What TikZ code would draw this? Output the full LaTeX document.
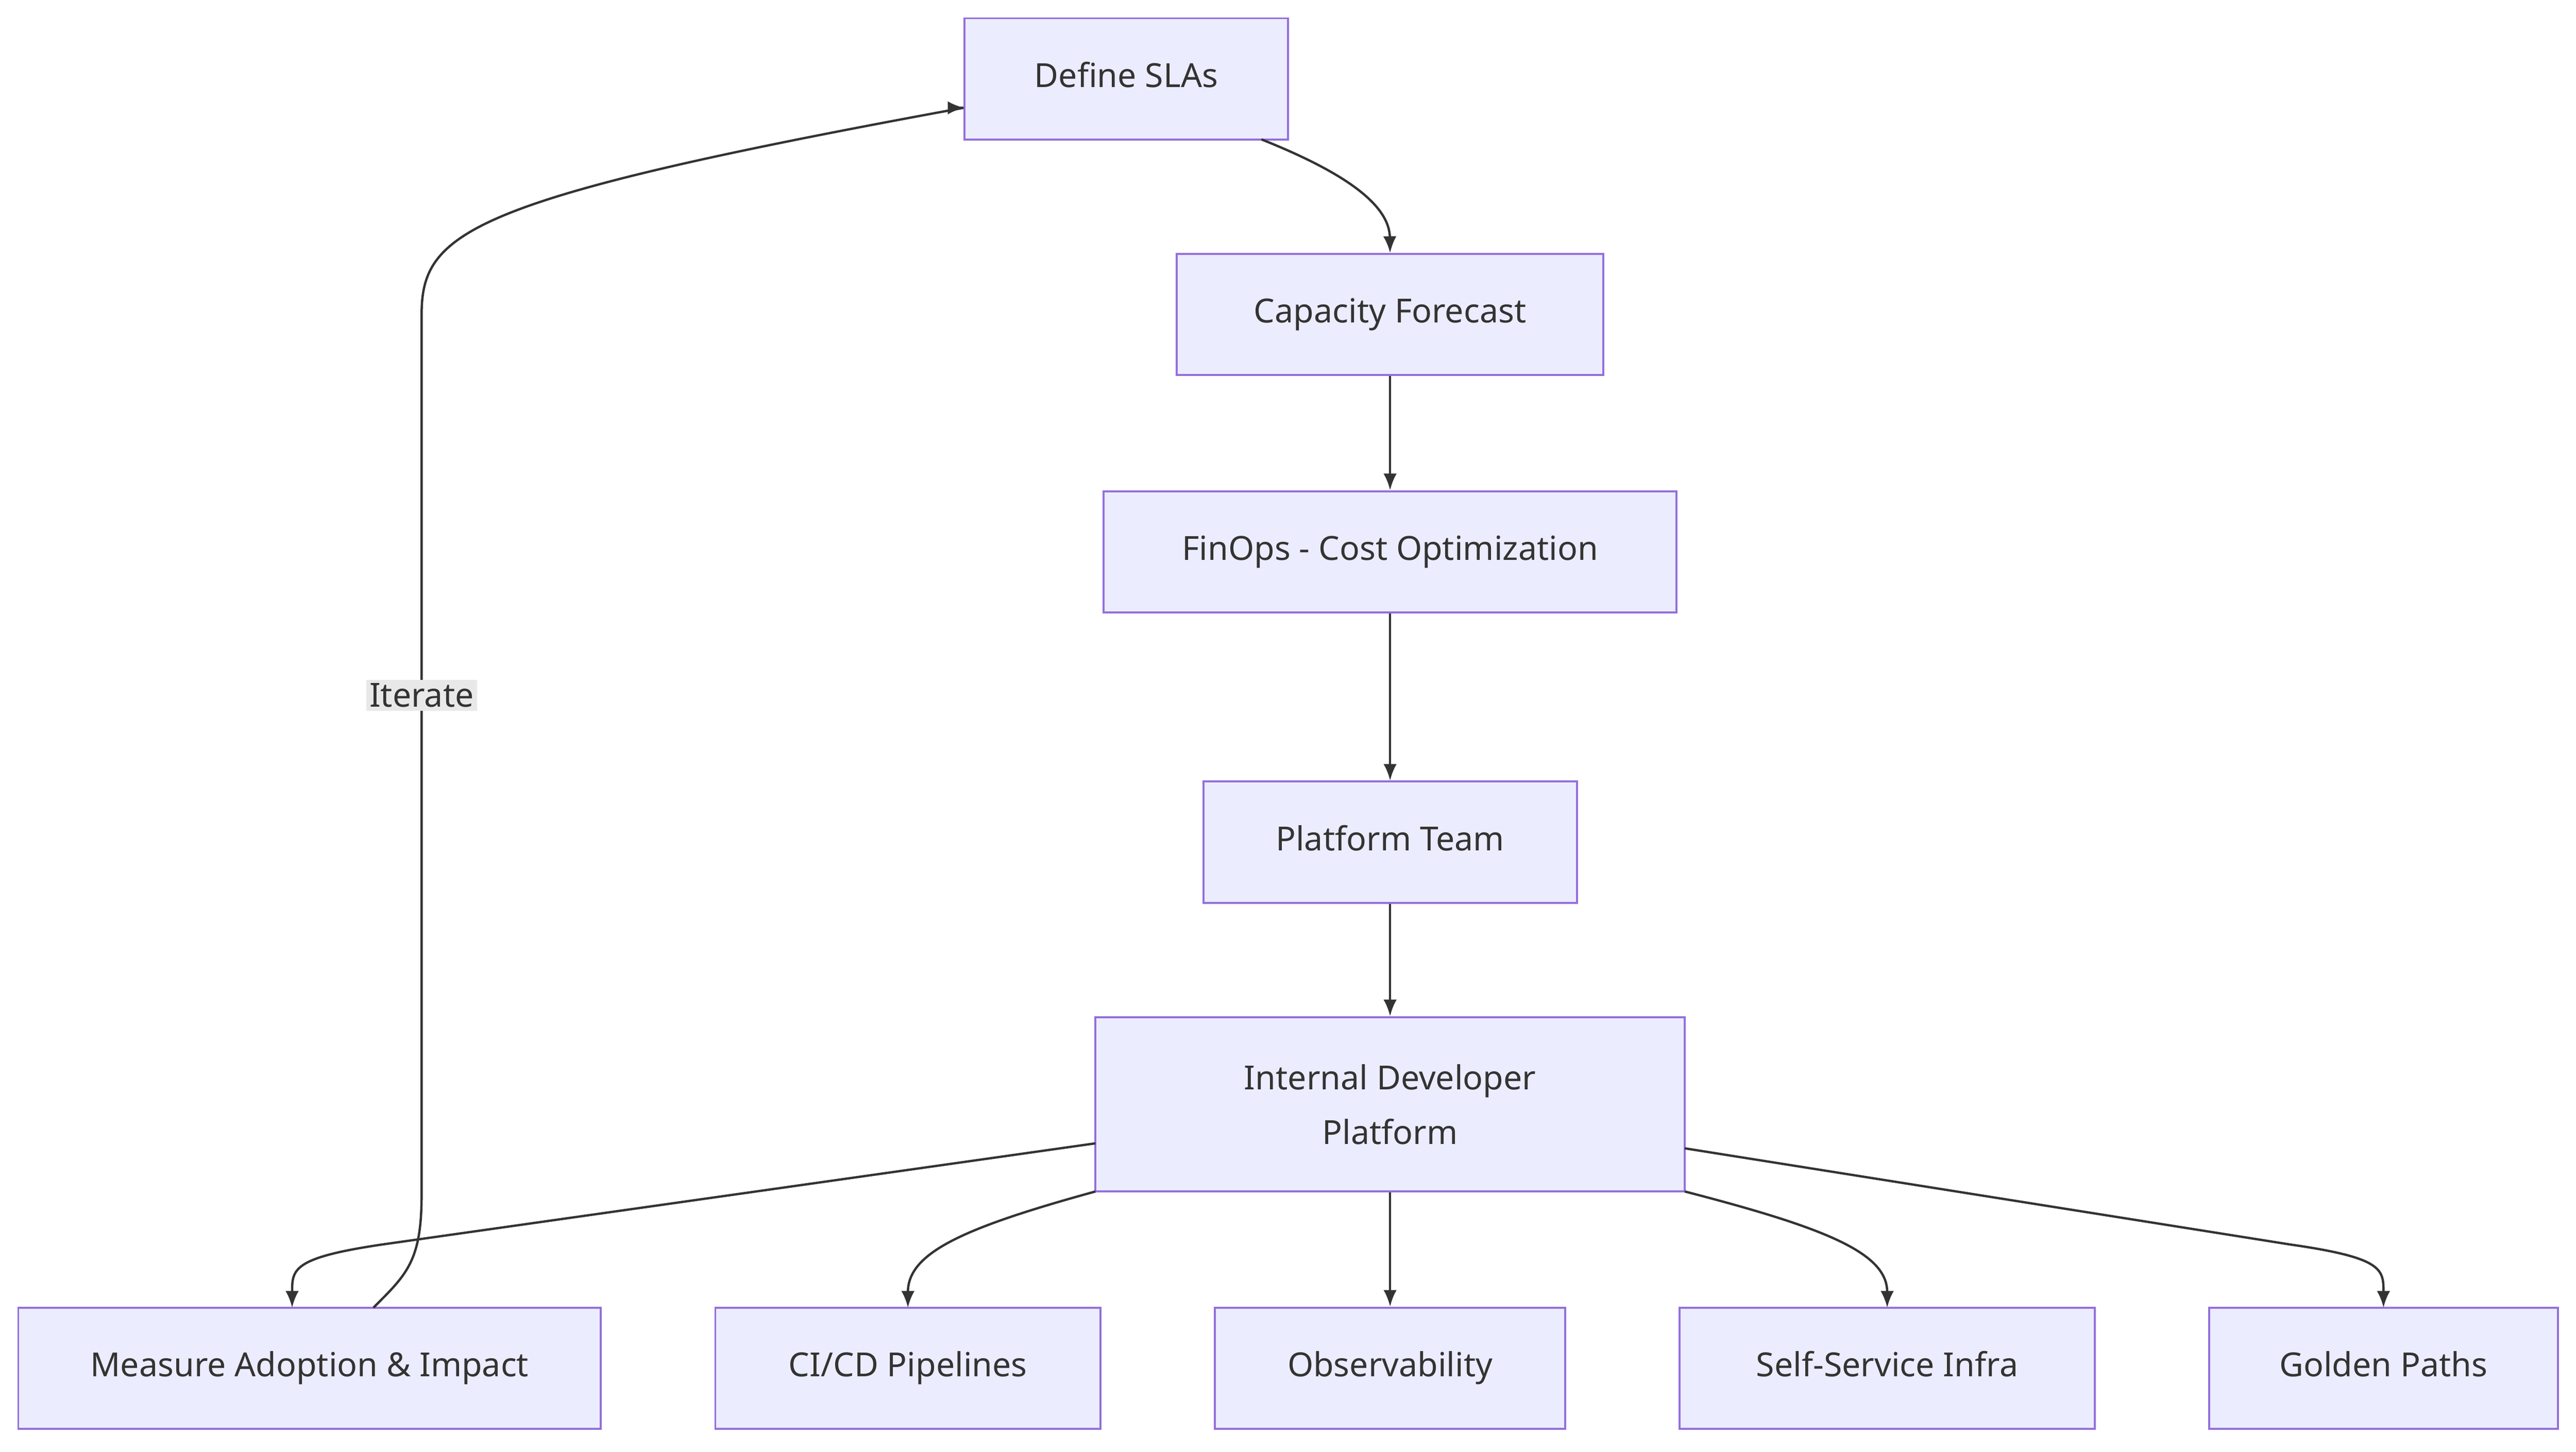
\documentclass[tikz,border=0pt]{standalone}
\usepackage{fontspec}
\setmainfont{Noto Sans}
\usetikzlibrary{arrows.meta}
\definecolor{nfill}{HTML}{ECECFF}
\definecolor{nline}{HTML}{9370DB}
\definecolor{ecol}{HTML}{333333}
\begin{document}
\begin{tikzpicture}[x=1pt,y=-1pt,
  box/.style={draw=nline,fill=nfill,line width=1.2pt,inner sep=0pt,font=\fontsize{20}{33}\selectfont,text=ecol,align=center},
  one/.style={box,minimum height=73pt,text height=14.5pt,text depth=4.5pt},
  edge/.style={draw=ecol,line width=1.4pt,-{Latex[length=10pt,width=8pt]}}]
\useasboundingbox (0,0) rectangle (1552,875);
\node[one,minimum width=195pt] (sla) at (678.5,47.5) {Define SLAs};
\node[one,minimum width=257pt] (cap) at (837.5,189.5) {Capacity Forecast};
\node[one,minimum width=345pt] (fin) at (837.5,332.5) {FinOps - Cost Optimization};
\node[one,minimum width=225pt] (pt) at (837.5,507.5) {Platform Team};
\node[box,minimum width=355pt,minimum height=105pt] (idp) at (837.5,665.5) {Internal Developer\\Platform};
\node[one,minimum width=351pt] (mea) at (186.5,824.5) {Measure Adoption \& Impact};
\node[one,minimum width=232pt] (ci) at (547,824.5) {CI/CD Pipelines};
\node[one,minimum width=211pt] (obs) at (837.5,824.5) {Observability};
\node[one,minimum width=250pt] (ss) at (1137,824.5) {Self-Service Infra};
\node[one,minimum width=210pt] (gp) at (1436,824.5) {Golden Paths};
\coordinate (sl1) at (760,84);
\draw[edge] (sl1) .. controls (800,100) and (837,120) .. (cap.north);
\draw[edge] (cap) -- (fin);
\draw[edge] (fin) -- (pt);
\draw[edge] (pt) -- (idp);
\draw[edge] (idp) -- (obs);
\coordinate (i1) at (660,689);
\coordinate (i2) at (660,718);
\coordinate (i3) at (1015,718);
\coordinate (i4) at (1015,692);
\draw[edge] (i1) -- (230,750) .. controls (176,758) and (176,765) .. (176,788);
\draw[edge] (i2) .. controls (580,740) and (547,755) .. (547,788);
\draw[edge] (i3) .. controls (1100,740) and (1137,755) .. (1137,788);
\draw[edge] (i4) -- (1380,750) .. controls (1436,758) and (1436,765) .. (1436,788);
\coordinate (m1) at (225,788);
\draw[edge] (m1) .. controls (245,768) and (254,760) .. (254,720) -- (254,190)
  .. controls (254,140) and (280,120) .. (sla.west |- 0,65) -- (581,65);
\node[fill=black!9,inner sep=2pt,font=\fontsize{20}{24}\selectfont,text=ecol] (it) at (254,419) {Iterate};
\end{tikzpicture}
\end{document}
